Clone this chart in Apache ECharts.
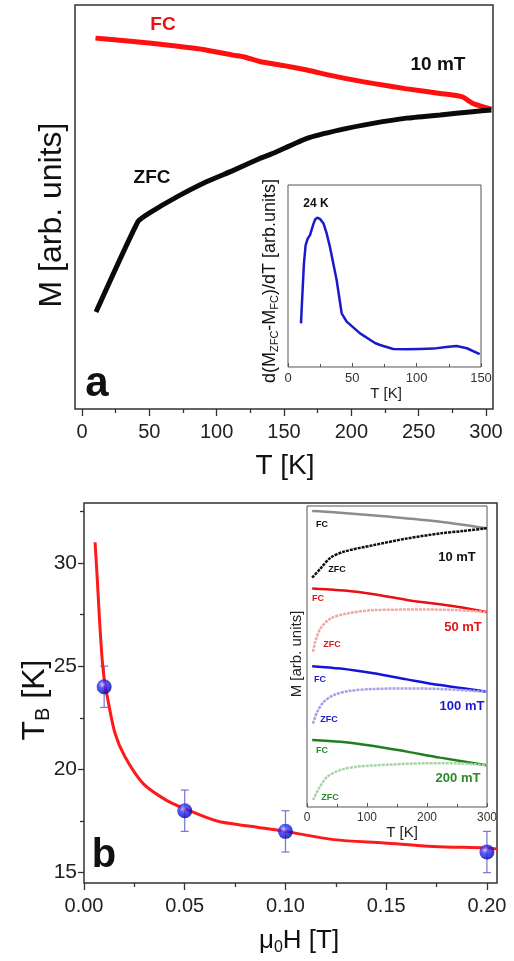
<!DOCTYPE html>
<html><head><meta charset="utf-8">
<script src="https://cdn.jsdelivr.net/npm/echarts@6/dist/echarts.min.js"></script>
<style>html,body{margin:0;padding:0;background:#fff}#c{width:514px;height:961px}</style>
</head><body><div id="c"></div>
<script>
// ---------- Panel a : M(T) at 10 mT (arb. units, 0-100) ----------
const aFC_T = [10, 20, 40, 63, 90, 112, 120, 132, 150, 167, 190, 216, 240, 266, 282, 290, 297, 304];
const aFC_M = [91.8, 91.5, 90.9, 90.1, 89.0, 87.6, 87.2, 86.0, 85.0, 83.9, 82.2, 80.6, 79.3, 78.1, 77.3, 75.7, 74.9, 74.2];
const aZFC_T = [10.4, 41.6, 50.5, 70.5, 92.8, 112, 132, 142, 167, 191.5, 216, 241, 266, 290, 304];
const aZFC_M = [24.0, 46.4, 48.6, 52.5, 56.3, 59.0, 62.0, 63.3, 67.0, 69.1, 70.7, 72.0, 72.8, 73.6, 74.0];
const aTicks = [0, 50, 100, 150, 200, 250, 300];
const aMinorTicks = [25, 75, 125, 175, 225, 275];
// inset a : d(Mzfc-Mfc)/dT
const dT = [10.1, 11.1, 12.4, 13.7, 15.3, 17.1, 19.7, 21.2, 22.8, 24.8, 27.5, 30.0, 32.6, 37.8, 41.7, 45.6, 56, 67.6, 71.5, 81.8, 92, 102.6, 113, 123, 131, 139, 149];
const dM = [24.0, 38.8, 57, 67, 70.5, 72.5, 78.5, 81.2, 82, 81.4, 79, 73.5, 66, 47.8, 29.5, 24.9, 18.5, 13.2, 12.1, 9.9, 9.7, 9.9, 10.1, 11.0, 11.5, 10.3, 7.1];

// ---------- Panel b : T_B vs mu0H ----------
const bH = [0.01, 0.05, 0.10, 0.20];
const bTB = [24, 18, 17, 16];
const bErr = [1, 1, 1, 1];
const fitH = [0.0055, 0.0066, 0.0075, 0.0088, 0.01, 0.0116, 0.0154, 0.0204, 0.0295, 0.041, 0.05, 0.066, 0.0825, 0.1, 0.124, 0.149, 0.1735, 0.2, 0.205];
const fitTB = [31.0, 29.2, 27.6, 25.6, 24.4, 23.5, 21.75, 20.6, 19.3, 18.5, 18.1, 17.5, 17.25, 17.0, 16.6, 16.44, 16.27, 16.2, 16.15];
const bXTicks = [0, 0.05, 0.10, 0.15, 0.20];
const bXMinor = [0.025, 0.075, 0.125, 0.175];
const bYTicks = [15, 20, 25, 30];
const bYMinor = [17.5, 22.5, 27.5, 32.5];
// inset b : M(T) curves at several fields (stacked, arb. units 0-100)
const i10FC_T = [8.6, 44.6, 139, 222, 299.5];
const i10FC_M = [98.3, 97.9, 96.4, 94.8, 92.6];
const i10ZFC_T = [8.6, 22.4, 39, 61, 111, 166.5, 222, 260.6, 299.5];
const i10ZFC_M = [76.2, 79.2, 82.8, 84.8, 87.0, 89.2, 90.9, 91.7, 92.6];
const i50FC_T = [8.6, 83, 166.5, 250, 299.5];
const i50FC_M = [72.6, 71.5, 68.8, 66.5, 64.8];
const i50ZFC_T = [10, 14, 22.4, 39, 67, 111, 194, 250, 299.5];
const i50ZFC_M = [51.6, 55, 59.3, 62.6, 64.3, 65.4, 65.6, 65.4, 64.8];
const i100FC_T = [8.6, 55.7, 111, 166.5, 222, 299.5];
const i100FC_M = [46.8, 46.0, 44.4, 42.4, 40.5, 38.3];
const i100ZFC_T = [10, 17, 28, 44.5, 72, 111, 166.5, 222, 299.5];
const i100ZFC_M = [27.7, 31.6, 34.9, 37.2, 38.6, 39.2, 39.4, 39.2, 38.3];
const i200FC_T = [8.6, 55.7, 111, 166.5, 222, 299.5];
const i200FC_M = [22.3, 21.7, 20.3, 18.4, 16.4, 13.9];
const i200ZFC_T = [10, 19.6, 33.5, 55.7, 83, 139, 194, 250, 299.5];
const i200ZFC_M = [2.3, 6.1, 10.0, 12.3, 13.4, 14.1, 14.5, 14.5, 13.9];

const FF = '"Liberation Sans", Arial, sans-serif';
const zip = (a, b) => a.map((v, i) => [v, b[i]]);

const chart = echarts.init(document.getElementById('c'), null, {renderer: 'canvas'});

function line(x, y, xi, yi, color, width, extra) {
  return Object.assign({
    type: 'line', xAxisIndex: xi, yAxisIndex: yi, data: zip(x, y),
    showSymbol: false, smooth: 0.3, silent: true,
    lineStyle: {color: color, width: width}
  }, extra || {});
}
function hiddenAxis(grid, min, max) {
  return {type: 'value', gridIndex: grid, min: min, max: max, show: false};
}
function tickAxis(grid, pos, min, max, ticks, len, showLabels, labelOpts, inside) {
  return {
    type: 'value', gridIndex: grid, position: pos, min: min, max: max,
    axisLine: {show: false},
    splitLine: {show: false},
    axisTick: {show: true, inside: !!inside, length: len, customValues: ticks, lineStyle: {color: '#333', width: 1.3}},
    axisLabel: Object.assign({show: showLabels, customValues: ticks, fontFamily: FF, color: '#222'}, labelOpts || {})
  };
}
function txt(x, y, text, size, color, bold, rot) {
  return {type: 'text', x: x, y: y, rotation: rot || 0, z: 100, silent: true,
    style: {text: text, fontSize: size, fontFamily: FF, fontWeight: bold ? 'bold' : 'normal', fill: color,
      textAlign: 'center', textVerticalAlign: 'middle', align: 'center', verticalAlign: 'middle'}};
}
function rich(x, y, text, size, subSize, rot) {
  return {type: 'text', x: x, y: y, rotation: rot || 0, z: 100, silent: true,
    style: {text: text, fill: '#111', textAlign: 'center', textVerticalAlign: 'middle', align: 'center', verticalAlign: 'middle',
      rich: {
        n: {fontSize: size, fontFamily: FF, fill: '#111', lineHeight: size * 1.15},
        s: {fontSize: subSize, fontFamily: FF, fill: '#111', lineHeight: subSize * 0.8, verticalAlign: 'bottom'}
      }}};
}

const option = {
  backgroundColor: '#fff',
  animation: false,
  grid: [
    {left: 75, top: 5, width: 418, height: 404, show: true, borderColor: '#333', borderWidth: 1.5, backgroundColor: '#fff'},
    {left: 288, top: 185, width: 193, height: 182, show: true, borderColor: '#555', borderWidth: 1, backgroundColor: '#fff'},
    {left: 84, top: 503, width: 413, height: 380, show: true, borderColor: '#333', borderWidth: 1.5, backgroundColor: '#fff'},
    {left: 307, top: 506, width: 180, height: 301, show: true, borderColor: '#555', borderWidth: 1, backgroundColor: '#fff'}
  ],
  xAxis: [
    tickAxis(0, 'bottom', -5.2, 305.2, aTicks, 7, true, {fontSize: 20, margin: 13}),
    tickAxis(0, 'bottom', -5.2, 305.2, aMinorTicks, 4, false),
    {type: 'value', gridIndex: 1, min: 0, max: 150, interval: 50,
      axisLine: {show: false}, splitLine: {show: false},
      axisTick: {inside: true, length: 4, lineStyle: {color: '#555'}},
      minorTick: {show: true, splitNumber: 2, length: 3, lineStyle: {color: '#555'}},
      axisLabel: {fontSize: 13, fontFamily: FF, color: '#333', margin: 5}},
    tickAxis(2, 'bottom', 0, 0.205, bXTicks, 7, true, {fontSize: 20, margin: 13, formatter: v => v.toFixed(2)}),
    tickAxis(2, 'bottom', 0, 0.205, bXMinor, 4, false),
    {type: 'value', gridIndex: 3, min: 0, max: 300, interval: 100,
      axisLine: {show: false}, splitLine: {show: false},
      axisTick: {inside: true, length: 4, lineStyle: {color: '#555'}},
      minorTick: {show: true, splitNumber: 2, length: 3, lineStyle: {color: '#555'}},
      axisLabel: {fontSize: 12, fontFamily: FF, color: '#333', margin: 5}}
  ],
  yAxis: [
    hiddenAxis(0, 0, 100),
    hiddenAxis(1, 0, 100),
    tickAxis(2, 'left', 14.5, 32.9, bYTicks, 6, true, {fontSize: 21, margin: 7}),
    tickAxis(2, 'left', 14.5, 32.9, bYMinor, 4, false),
    hiddenAxis(3, 0, 100)
  ],
  series: [
    line(aFC_T, aFC_M, 0, 0, '#ff1010', 5, {smooth: 0.2}),
    line(aZFC_T, aZFC_M, 0, 0, '#0a0a0a', 5, {smooth: 0.15}),
    line(dT, dM, 2, 1, '#1a1acc', 2.5, {smooth: false}),
    line(fitH, fitTB, 3, 2, '#ff1a1a', 3, {smooth: 0.3}),
    {type: 'custom', xAxisIndex: 3, yAxisIndex: 2, silent: true, z: 3,
      data: bH.map((h, i) => [h, bTB[i], bErr[i]]),
      encode: {x: 0, y: 1},
      renderItem: function (params, api) {
        const x = api.value(0), y = api.value(1), e = api.value(2);
        const t = api.coord([x, y + e]), b = api.coord([x, y - e]);
        const w = 4, st = {stroke: '#7474d4', lineWidth: 1.2};
        return {type: 'group', children: [
          {type: 'line', shape: {x1: t[0], y1: t[1], x2: b[0], y2: b[1]}, style: st},
          {type: 'line', shape: {x1: t[0] - w, y1: t[1], x2: t[0] + w, y2: t[1]}, style: st},
          {type: 'line', shape: {x1: b[0] - w, y1: b[1], x2: b[0] + w, y2: b[1]}, style: st}
        ]};
      }},
    {type: 'scatter', xAxisIndex: 3, yAxisIndex: 2, data: zip(bH, bTB), symbolSize: 15, z: 5, silent: true,
      itemStyle: {color: new echarts.graphic.RadialGradient(0.38, 0.35, 0.65, [
        {offset: 0, color: '#c8c8ff'}, {offset: 0.35, color: '#3535ff'}, {offset: 1, color: '#0000a8'}])}},
    line(i10FC_T, i10FC_M, 5, 4, '#8c8c8c', 2.5),
    line(i10ZFC_T, i10ZFC_M, 5, 4, '#111111', 2.5, {lineStyle: {color: '#111', width: 2.5, type: [3, 1]}}),
    line(i50FC_T, i50FC_M, 5, 4, '#e81010', 2.5),
    line(i50ZFC_T, i50ZFC_M, 5, 4, '#f3a6a6', 2.5, {lineStyle: {color: '#f3a6a6', width: 2.5, type: [3, 1]}}),
    line(i100FC_T, i100FC_M, 5, 4, '#1414d8', 2.5),
    line(i100ZFC_T, i100ZFC_M, 5, 4, '#a2a2e8', 2.5, {lineStyle: {color: '#a2a2e8', width: 2.5, type: [3, 1]}}),
    line(i200FC_T, i200FC_M, 5, 4, '#1f7f1f', 2.5),
    line(i200ZFC_T, i200ZFC_M, 5, 4, '#a8d4a8', 2.5, {lineStyle: {color: '#a8d4a8', width: 2.5, type: [3, 1]}})
  ],
  graphic: [
    // panel a titles & annotations
    txt(52, 215, 'M [arb. units]', 32, '#111', false, Math.PI / 2),
    txt(285, 466, 'T [K]', 28, '#111', false),
    txt(163, 25, 'FC', 19, '#ee1111', true),
    txt(438, 65, '10 mT', 19, '#111', true),
    txt(152, 178, 'ZFC', 19, '#111', true),
    txt(97, 384, 'a', 42, '#111', true),
    txt(316, 204, '24 K', 12, '#111', true),
    rich(270, 281, '{n|d(M}{s|ZFC}{n|-M}{s|FC}{n|)/dT [arb.units]}', 18, 11, Math.PI / 2),
    txt(386, 394, 'T [K]', 15, '#222', false),
    // panel b titles & annotations
    rich(35, 700, '{n|T}{s|B}{n| [K]}', 32, 20, Math.PI / 2),
    rich(299, 941, '{n|\u03bc}{s|0}{n|H [T]}', 26, 16, 0),
    txt(104, 856, 'b', 40, '#111', true),
    txt(297, 654, 'M [arb. units]', 15, '#222', false, Math.PI / 2),
    txt(402, 833, 'T [K]', 15, '#222', false),
    txt(322, 525, 'FC', 9, '#111', true),
    txt(337, 570, 'ZFC', 9, '#111', true),
    txt(457, 557, '10 mT', 13, '#111', true),
    txt(318, 599, 'FC', 9, '#e01818', true),
    txt(332, 645, 'ZFC', 9, '#e01818', true),
    txt(463, 627, '50 mT', 13, '#e01818', true),
    txt(320, 680, 'FC', 9, '#1a1ad0', true),
    txt(329, 720, 'ZFC', 9, '#1a1ad0', true),
    txt(462, 706, '100 mT', 13, '#1a1ad0', true),
    txt(322, 751, 'FC', 9, '#2a8a2a', true),
    txt(330, 798, 'ZFC', 9, '#2a8a2a', true),
    txt(458, 778, '200 mT', 13, '#2a8a2a', true)
  ]
};
chart.setOption(option);
</script>
</body></html>
